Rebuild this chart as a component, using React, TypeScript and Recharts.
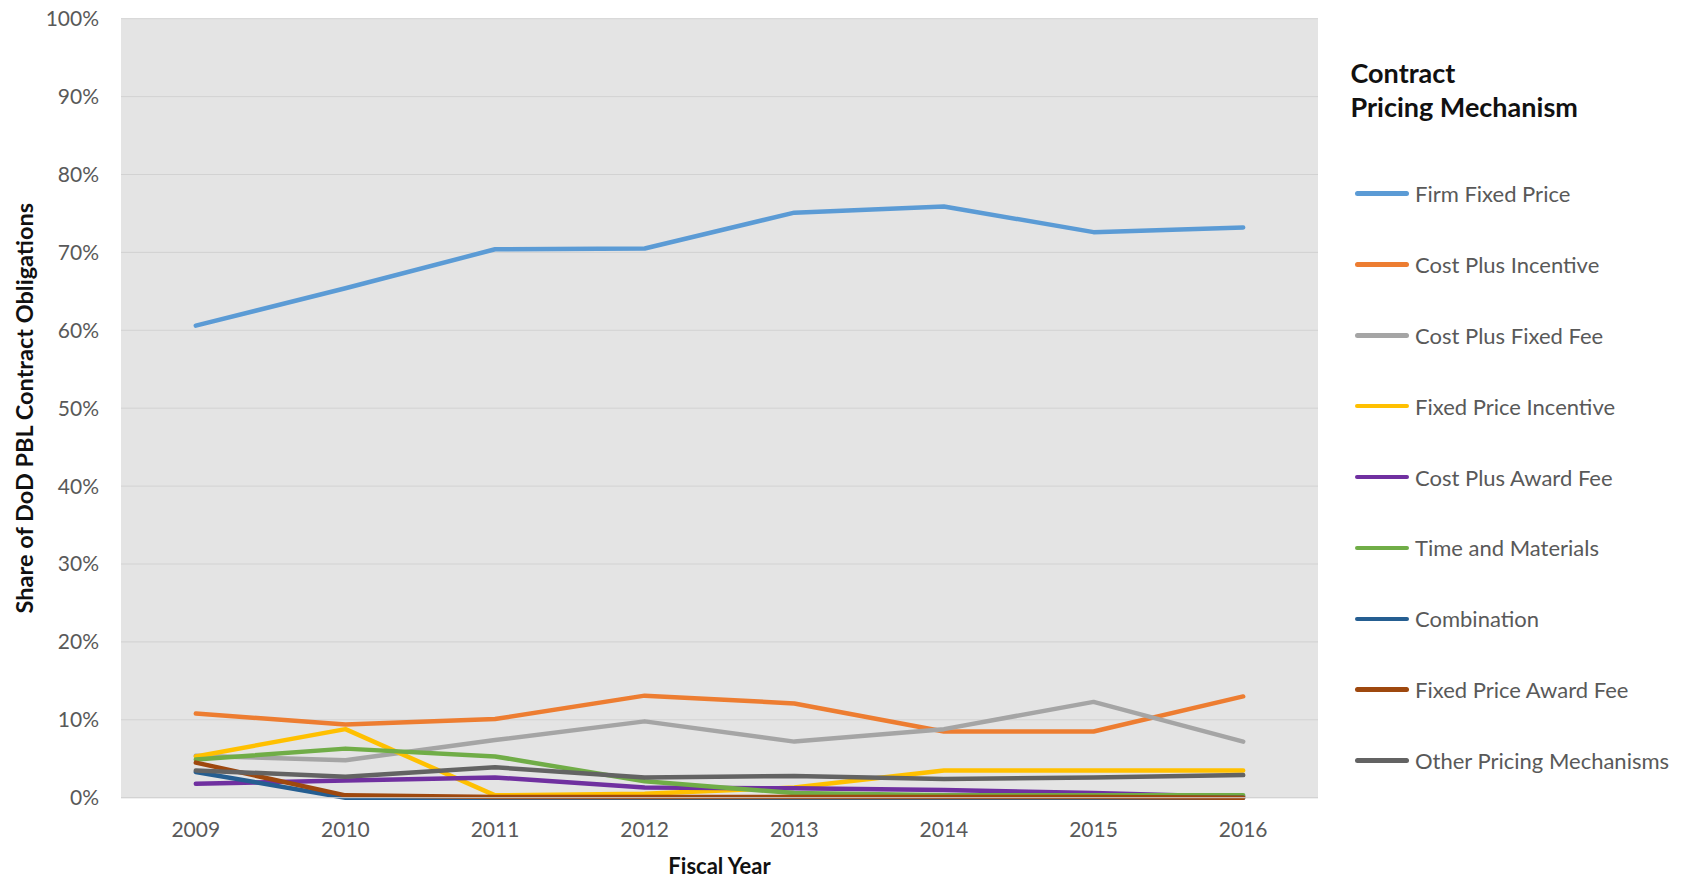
import { LineChart, Line, XAxis, YAxis, CartesianGrid, Legend, Label } from 'recharts'

const years = ['2009', '2010', '2011', '2012', '2013', '2014', '2015', '2016']
const yTicks = [0, 10, 20, 30, 40, 50, 60, 70, 80, 90, 100]

const firmFixedPrice = [60.6, 65.4, 70.4, 70.5, 75.1, 75.9, 72.6, 73.2]
const costPlusIncentive = [10.8, 9.4, 10.1, 13.1, 12.1, 8.5, 8.5, 13.0]
const costPlusFixedFee = [5.4, 4.8, 7.4, 9.8, 7.2, 8.8, 12.3, 7.2]
const fixedPriceIncentive = [5.3, 8.8, 0.3, 0.5, 1.3, 3.5, 3.5, 3.5]
const costPlusAwardFee = [1.8, 2.2, 2.6, 1.3, 1.2, 1.0, 0.6, 0.1]
const timeAndMaterials = [4.9, 6.3, 5.3, 2.1, 0.6, 0.3, 0.3, 0.3]
const combination = [3.3, 0, 0, 0, 0, 0, 0, 0]
const fixedPriceAwardFee = [4.5, 0.3, 0.1, 0.1, 0.1, 0.1, 0.1, 0]
const otherPricing = [3.5, 2.7, 3.9, 2.6, 2.8, 2.4, 2.6, 2.9]

const series = [
  { key: 'ffp', name: 'Firm Fixed Price', color: '#5B9BD5', values: firmFixedPrice },
  { key: 'cpi', name: 'Cost Plus Incentive', color: '#ED7D31', values: costPlusIncentive },
  { key: 'cpff', name: 'Cost Plus Fixed Fee', color: '#A5A5A5', values: costPlusFixedFee },
  { key: 'fpi', name: 'Fixed Price Incentive', color: '#FFC000', values: fixedPriceIncentive },
  { key: 'cpaf', name: 'Cost Plus Award Fee', color: '#7030A0', values: costPlusAwardFee },
  { key: 'tm', name: 'Time and Materials', color: '#70AD47', values: timeAndMaterials },
  { key: 'comb', name: 'Combination', color: '#255E91', values: combination },
  { key: 'fpaf', name: 'Fixed Price Award Fee', color: '#9E480E', values: fixedPriceAwardFee },
  { key: 'other', name: 'Other Pricing Mechanisms', color: '#636363', values: otherPricing },
]

const data = years.map((year, i) => {
  const row: any = { year }
  series.forEach(s => { row[s.key] = s.values[i] })
  return row
})

const FONT = 'Lato, "Open Sans", sans-serif'
const tickStyle = { fontSize: 21, fill: '#595959', fontFamily: FONT }

// legend keeps the series order (recharts would sort it by name)
function LegendBox() {
  return (
    <div style={{ fontFamily: FONT, width: 336 }}>
      <div style={{ marginTop: 55.75, fontWeight: 700, fontSize: 27, lineHeight: '34.5px', color: '#111' }}>
        Contract<br />Pricing Mechanism
      </div>
      <div style={{ marginTop: 33.3 }}>
        {series.map(s => (
          <div key={s.key} style={{ display: 'flex', alignItems: 'center', height: 70.9 }}>
            <div style={{ marginLeft: 4.5, width: 54, height: 4.5, borderRadius: 3, background: s.color }} />
            <span style={{ marginLeft: 6, fontSize: 22, color: '#595959', whiteSpace: 'nowrap' }}>{s.name}</span>
          </div>
        ))}
      </div>
    </div>
  )
}

export default function App() {
  return (
    <div style={{ fontFamily: FONT, position: 'absolute', left: 0, top: 0, width: 1686, height: 877, overflow: 'hidden' }}>
      <LineChart width={1686} height={877} data={data} margin={{ top: 18.7, right: 368, bottom: 19.3, left: 41 }}>
        <CartesianGrid vertical={false} fill="#E4E4E4" stroke="#D2D2D2" />
        <XAxis
          dataKey="year" scale="band" tick={tickStyle} tickLine={false} tickSize={0} tickMargin={24}
          axisLine={{ stroke: '#D2D2D2' }} height={60}
        >
          <Label
            content={({ viewBox }: any) => (
              <text x={viewBox.x + viewBox.width / 2} y={865} textAnchor="middle" dominantBaseline="central"
                style={{ fontSize: 22, fontWeight: 700, fill: '#111', fontFamily: FONT }}>
                Fiscal Year
              </text>
            )}
          />
        </XAxis>
        <YAxis
          domain={[0, 100]} ticks={yTicks} tickFormatter={(v: number) => `${v}%`} tick={tickStyle}
          tickLine={false} axisLine={false} tickSize={0} tickMargin={22} width={80} interval={0}
        >
          <Label
            content={({ viewBox }: any) => {
              const cy = viewBox.y + viewBox.height / 2
              return (
                <text x={24} y={cy} transform={`rotate(-90, 24, ${cy})`} textAnchor="middle" dominantBaseline="central"
                  style={{ fontSize: 23.5, fontWeight: 700, fill: '#111', fontFamily: FONT }}>
                  Share of DoD PBL Contract Obligations
                </text>
              )
            }}
          />
        </YAxis>
        <Legend
          layout="vertical" align="center" verticalAlign="middle"
          wrapperStyle={{ left: 1350.5, top: 0, width: 336 }}
          content={<LegendBox />}
        />
        {series.map(s => (
          <Line
            key={s.key} type="linear" dataKey={s.key} name={s.name}
            stroke={s.color} strokeWidth={4.5} strokeLinecap="round" strokeLinejoin="round"
            dot={false} activeDot={false} isAnimationActive={false}
          />
        ))}
      </LineChart>
    </div>
  )
}
